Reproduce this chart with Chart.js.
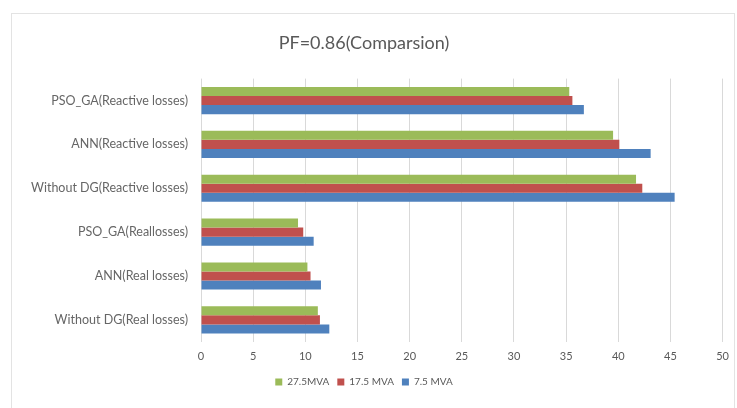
<!DOCTYPE html>
<html>
<head>
<meta charset="utf-8">
<script src="https://cdn.jsdelivr.net/npm/chart.js@4"></script>
<style>
  html, body { margin: 0; padding: 0; background: #fff; }
  #frame {
    position: absolute; left: 11px; top: 13px; width: 724px; height: 400px;
    border: 1px solid #e3e3e3; box-sizing: border-box;
  }
  #wrap { position: absolute; left: 0; top: 0; width: 737px; height: 408px; }
</style>
</head>
<body>
<div id="frame"></div>
<div id="wrap"><canvas id="myChart" width="737" height="408"></canvas></div>
<script>
// categories, listed top to bottom
const categories = [
  'PSO_GA(Reactive losses)',
  'ANN(Reactive losses)',
  'Without DG(Reactive losses)',
  'PSO_GA(Reallosses)',
  'ANN(Real losses)',
  'Without DG(Real losses)'
];

const seriesNames = ['27.5MVA', '17.5 MVA', '7.5 MVA'];

const mva275 = [35.3, 39.5, 41.7, 9.3, 10.2, 11.2];
const mva175 = [35.6, 40.1, 42.3, 9.8, 10.5, 11.4];
const mva75  = [36.7, 43.1, 45.4, 10.8, 11.5, 12.3];

const xTicks = [0, 5, 10, 15, 20, 25, 30, 35, 40, 45, 50];

const colors = ['#9bbb59', '#c0504d', '#4f81bd'];
const textColor = '#595959';
const fontFamily = 'Lato, "DejaVu Sans", sans-serif';

const ctx = document.getElementById('myChart');

new Chart(ctx, {
  type: 'bar',
  data: {
    labels: categories,
    datasets: [mva275, mva175, mva75].map((d, i) => ({
      label: seriesNames[i],
      data: d,
      backgroundColor: colors[i],
      borderWidth: 0,
      categoryPercentage: 0.62,
      barPercentage: 1.0
    }))
  },
  options: {
    indexAxis: 'y',
    responsive: false,
    animation: false,
    layout: { padding: { top: 22, right: 9, bottom: 11, left: 0 } },
    plugins: {
      title: {
        display: true,
        text: 'PF=0.86(Comparsion)',
        color: textColor,
        font: { family: fontFamily, size: 18, weight: 'normal' },
        padding: { top: 10, bottom: 25 }
      },
      legend: {
        position: 'bottom',
        labels: {
          color: textColor,
          font: { family: fontFamily, size: 10 },
          boxWidth: 7,
          boxHeight: 7,
          padding: 8
        }
      },
      tooltip: { enabled: false }
    },
    scales: {
      x: {
        min: 0,
        max: 50,
        afterBuildTicks: (axis) => { axis.ticks = xTicks.map(v => ({ value: v })); },
        // pull the legend closer to the tick labels
        afterFit: (axis) => { axis.height -= 2; },
        grid: { color: '#d9d9d9', drawTicks: false },
        border: { display: false },
        ticks: {
          color: textColor,
          font: { family: fontFamily, size: 11 },
          padding: 8
        }
      },
      y: {
        grid: { display: false },
        border: { display: false },
        afterFit: (axis) => { axis.width = 201; },
        ticks: {
          color: '#666666',
          font: { family: fontFamily, size: 12.5 },
          padding: 5
        }
      }
    }
  }
});
</script>
</body>
</html>
